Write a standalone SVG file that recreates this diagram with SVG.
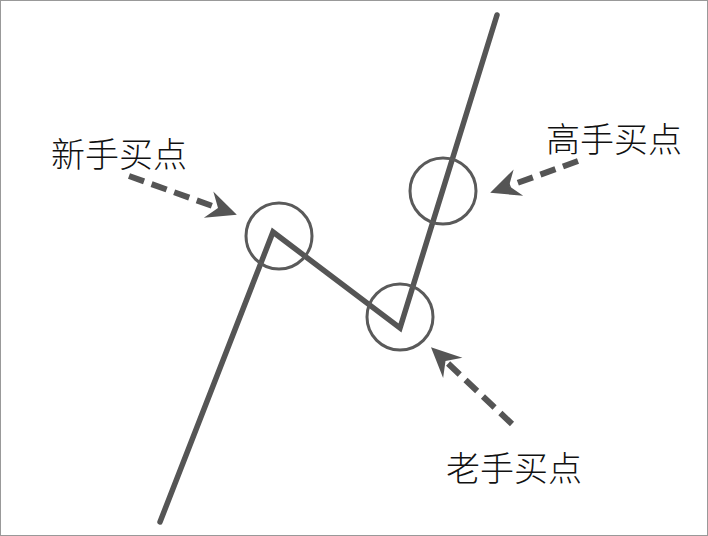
<svg xmlns="http://www.w3.org/2000/svg" width="708" height="536" viewBox="0 0 708 536">
<style>
.main{fill:none;stroke:#555;stroke-width:5.5;stroke-linejoin:miter;stroke-linecap:round}
.ring{fill:none;stroke:#5a5a5a;stroke-width:3}
.dash{fill:none;stroke:#555;stroke-width:6;stroke-dasharray:16 8}
.lbl{font-family:"Noto Sans CJK SC","Noto Sans CJK JP",sans-serif;font-size:34px;font-weight:300;fill:#111}
</style>
<defs>
<marker id="ah" markerUnits="userSpaceOnUse" markerWidth="40" markerHeight="40" refX="10" refY="0" viewBox="-5 -20 40 40" orient="auto" overflow="visible">
<path d="M0,-14 L30,0 L0,14 L10,0 Z" fill="#555"/>
</marker>
</defs>
<rect x="0.5" y="0.5" width="707" height="535" fill="#fff" stroke="#999" stroke-width="1"/>
<g id="price-line">
<polyline class="main" points="160,522 273,232 400,328 497,15"/>
</g>
<g id="node-xinshou">
<circle class="ring" cx="279" cy="236" r="33"/>
<text class="lbl" x="51" y="167">新手买点</text>
</g>
<g id="node-laoshou">
<circle class="ring" cx="400" cy="317" r="33"/>
<text class="lbl" x="446" y="481">老手买点</text>
</g>
<g id="node-gaoshou">
<circle class="ring" cx="443" cy="191" r="33"/>
<text class="lbl" x="546" y="152">高手买点</text>
</g>
<g id="connectors">
<path class="dash" d="M129,176 L218,208" marker-end="url(#ah)"/>
<path class="dash" d="M578,161 L509,186" marker-end="url(#ah)"/>
<path class="dash" d="M512,424 L445.5,361" marker-end="url(#ah)"/>
</g>
</svg>
